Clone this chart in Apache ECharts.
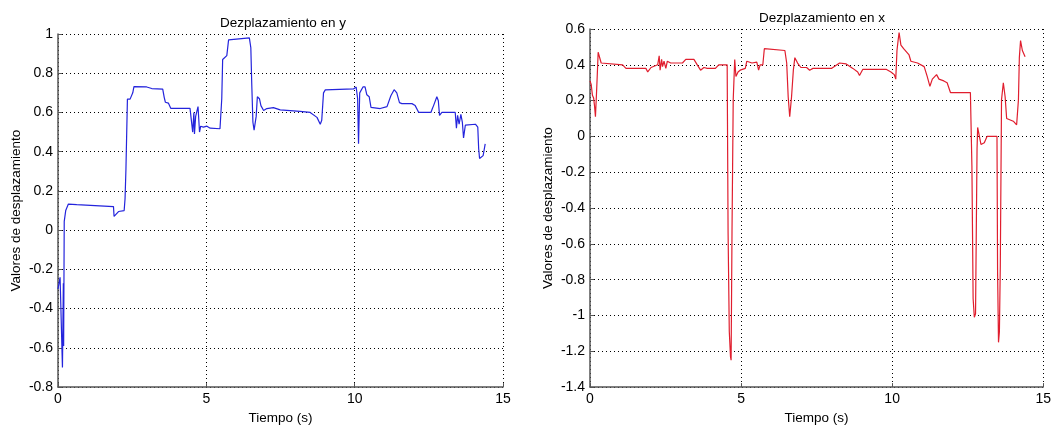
<!DOCTYPE html>
<html>
<head>
<meta charset="utf-8">
<script src="https://cdn.jsdelivr.net/npm/echarts@6/dist/echarts.min.js"></script>
<style>
html, body { margin: 0; padding: 0; background: #fff; }
#chart { width: 1054px; height: 430px; }
</style>
</head>
<body>
<div id="chart"></div>
<script>
// Dezplazamiento en y (izquierda)
var tiempoY = [0, 0.07, 0.10, 0.15, 0.18, 0.19, 0.21, 0.26, 0.35, 0.63, 1.87, 1.89, 1.92, 2.04, 2.23, 2.26, 2.29, 2.34, 2.43, 2.52,
	2.56, 2.99, 3.16, 3.53, 3.58, 3.62, 3.72, 3.80, 4.45, 4.51, 4.54, 4.58, 4.60, 4.64, 4.68, 4.72, 4.77, 4.81, 4.90, 5.02,
	5.13, 5.46, 5.52, 5.55, 5.60, 5.69, 5.75, 5.80, 6.45, 6.50, 6.53, 6.57, 6.61, 6.68, 6.72, 6.79, 6.84, 6.93, 7.04, 7.26,
	7.49, 8.16, 8.50, 8.73, 8.84, 8.89, 8.95, 9.01, 9.96, 10.05, 10.10, 10.13, 10.17, 10.22, 10.28, 10.35, 10.41, 10.49, 10.55, 10.86,
	11.09, 11.22, 11.33, 11.42, 11.51, 11.59, 11.93, 11.99, 12.04, 12.16, 12.57, 12.62, 12.66, 12.72, 12.77, 12.82, 12.86, 12.94, 13.39, 13.43,
	13.47, 13.52, 13.58, 13.63, 13.67, 13.73, 13.79, 14.07, 14.15, 14.18, 14.21, 14.33, 14.40];
var valoresY = [-0.30, -0.24, -0.23, -0.70, -0.27, -0.59, 0.045, 0.10, 0.133, 0.13, 0.12, 0.07, 0.07, 0.095, 0.10, 0.16, 0.31, 0.668, 0.668, 0.70,
	0.732, 0.73, 0.722, 0.719, 0.677, 0.652, 0.648, 0.621, 0.621, 0.63, 0.50, 0.60, 0.49, 0.58, 0.57, 0.63, 0.50, 0.53, 0.525, 0.53,
	0.52, 0.517, 0.67, 0.87, 0.86, 0.89, 0.97, 0.98, 0.98, 0.93, 0.75, 0.55, 0.51, 0.58, 0.68, 0.67, 0.635, 0.61, 0.62, 0.625,
	0.613, 0.606, 0.60, 0.575, 0.54, 0.56, 0.70, 0.715, 0.72, 0.73, 0.67, 0.44, 0.70, 0.70, 0.73, 0.73, 0.69, 0.68, 0.626, 0.62,
	0.63, 0.685, 0.716, 0.70, 0.65, 0.645, 0.645, 0.65, 0.635, 0.60, 0.60, 0.62, 0.635, 0.625, 0.68, 0.66, 0.585, 0.60, 0.60, 0.52,
	0.585, 0.54, 0.59, 0.55, 0.47, 0.535, 0.537, 0.54, 0.525, 0.415, 0.365, 0.38, 0.44];

// Dezplazamiento en x (derecha)
var tiempoX = [0, 0.04, 0.08, 0.12, 0.15, 0.18, 0.21, 0.24, 0.27, 0.32, 0.37, 1.08, 1.19, 1.85, 1.91, 2.02, 2.24, 2.29, 2.32, 2.37,
	2.40, 2.45, 2.51, 2.56, 2.67, 3.06, 3.17, 3.44, 3.55, 3.66, 3.77, 3.88, 4.15, 4.26, 4.54, 4.57, 4.61, 4.65, 4.67, 4.70,
	4.74, 4.79, 4.83, 4.90, 4.97, 5.14, 5.19, 5.36, 5.52, 5.58, 5.63, 5.72, 5.77, 6.45, 6.51, 6.56, 6.61, 6.67, 6.73, 6.78,
	6.87, 6.98, 7.17, 7.27, 7.38, 7.99, 8.26, 8.48, 8.70, 8.86, 8.92, 9.03, 9.80, 9.96, 10.07, 10.12, 10.16, 10.20, 10.23, 10.29,
	10.38, 10.56, 10.62, 10.84, 11.06, 11.16, 11.25, 11.33, 11.38, 11.47, 11.55, 11.71, 11.82, 11.93, 12.59, 12.64, 12.68, 12.72, 12.76, 12.81,
	12.83, 12.88, 12.94, 13.05, 13.14, 13.47, 13.49, 13.52, 13.55, 13.58, 13.62, 13.68, 13.74, 13.79, 14.01, 14.12, 14.18, 14.21, 14.25, 14.31,
	14.37, 14.40];
var valoresX = [0.31, 0.29, 0.23, 0.215, 0.17, 0.11, 0.22, 0.34, 0.47, 0.465, 0.41, 0.40, 0.38, 0.38, 0.36, 0.385, 0.40, 0.45, 0.37, 0.43,
	0.39, 0.42, 0.38, 0.42, 0.41, 0.41, 0.43, 0.43, 0.40, 0.37, 0.385, 0.38, 0.38, 0.40, 0.40, -0.535, -1.09, -1.23, -1.25, -0.535,
	0.205, 0.43, 0.335, 0.36, 0.37, 0.38, 0.42, 0.41, 0.415, 0.37, 0.40, 0.40, 0.49, 0.48, 0.41, 0.22, 0.11, 0.22, 0.37, 0.44,
	0.41, 0.385, 0.385, 0.37, 0.38, 0.38, 0.41, 0.405, 0.38, 0.36, 0.34, 0.375, 0.375, 0.36, 0.345, 0.32, 0.48, 0.54, 0.58, 0.51,
	0.49, 0.455, 0.42, 0.41, 0.39, 0.335, 0.28, 0.32, 0.31, 0.345, 0.32, 0.31, 0.30, 0.245, 0.245, -0.165, -0.905, -1.01, -0.99, -0.07,
	0.05, 0.04, -0.045, -0.035, 0.0, 0.0, -0.76, -1.15, -1.09, -0.72, 0.205, 0.30, 0.22, 0.10, 0.085, 0.065, 0.205, 0.44, 0.535, 0.48,
	0.47, 0.445];

var ticksX = [0, 5, 10, 15];

function pares(t, v) {
	var out = [];
	for (var i = 0; i < t.length; i++) {
		out.push([t[i], v[i]]);
	}
	return out;
}

var fuente = 'Liberation Sans, Arial, Helvetica, sans-serif';
var punteado = { color: '#000', width: 1, type: [1, 3] };
var ejeLinea = { show: true, onZero: false, lineStyle: { color: '#555', width: 1.5 } };

function ejeX(idx, gap) {
	return {
		gridIndex: idx,
		type: 'value',
		min: ticksX[0],
		max: ticksX[ticksX.length - 1],
		interval: 5,
		name: 'Tiempo (s)',
		nameLocation: 'middle',
		nameGap: gap,
		nameTextStyle: { color: '#000', fontSize: 13.5, fontFamily: fuente },
		axisLine: ejeLinea,
		axisTick: { show: true, inside: true, length: 4, lineStyle: { color: '#555' } },
		axisLabel: { color: '#000', fontSize: 14, margin: 5, fontFamily: fuente },
		splitLine: { show: true, lineStyle: punteado }
	};
}

function ejeY(idx, min, max, gap) {
	return {
		gridIndex: idx,
		type: 'value',
		min: min,
		max: max,
		interval: 0.2,
		name: 'Valores de desplazamiento',
		nameLocation: 'middle',
		nameGap: gap,
		nameTextStyle: { color: '#000', fontSize: 13.5, fontFamily: fuente },
		axisLine: ejeLinea,
		axisTick: { show: true, inside: true, length: 4, lineStyle: { color: '#555' } },
		axisLabel: { color: '#000', fontSize: 14, margin: 5, fontFamily: fuente },
		splitLine: { show: true, lineStyle: punteado }
	};
}

var chart = echarts.init(document.getElementById('chart'));
var option = {
	backgroundColor: '#fff',
	animation: false,
	title: [
		{ text: 'Dezplazamiento en y', left: 278, top: 11, textAlign: 'center',
			textStyle: { color: '#000', fontSize: 13.5, fontWeight: 'normal', fontFamily: fuente } },
		{ text: 'Dezplazamiento en x', left: 817, top: 6, textAlign: 'center',
			textStyle: { color: '#000', fontSize: 13.5, fontWeight: 'normal', fontFamily: fuente } }
	],
	grid: [
		{ left: 58, right: 551, top: 34, bottom: 39 },
		{ left: 590, right: 7, top: 29, bottom: 41 }
	],
	xAxis: [ejeX(0, 20), ejeX(1, 22)],
	yAxis: [ejeY(0, -0.8, 1, 35), ejeY(1, -1.4, 0.6, 35)],
	series: [
		{
			name: 'y',
			type: 'line',
			xAxisIndex: 0,
			yAxisIndex: 0,
			showSymbol: false,
			lineStyle: { color: '#2424dc', width: 1.2 },
			data: pares(tiempoY, valoresY)
		},
		{
			name: 'x',
			type: 'line',
			xAxisIndex: 1,
			yAxisIndex: 1,
			showSymbol: false,
			lineStyle: { color: '#e01e2e', width: 1.2 },
			data: pares(tiempoX, valoresX)
		}
	]
};
chart.setOption(option);
</script>
</body>
</html>
